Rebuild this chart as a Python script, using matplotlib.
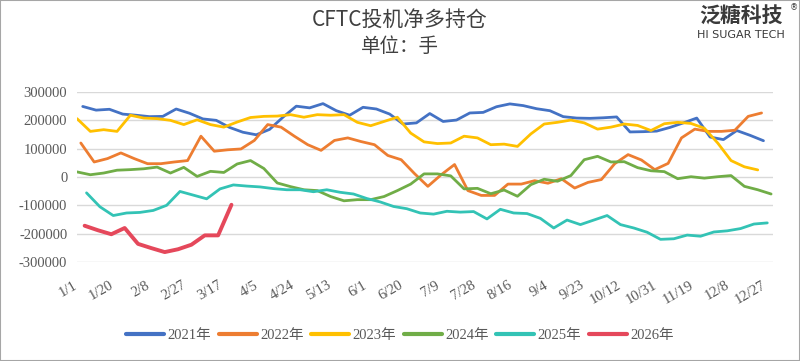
import numpy as np
import matplotlib
matplotlib.use("Agg")
import matplotlib.pyplot as plt
from matplotlib.patches import Rectangle
from matplotlib.transforms import ScaledTranslation

plt.rcParams['font.family'] = ['Liberation Serif', 'Noto Sans CJK SC', 'DejaVu Sans']

# CFTC 投机净多持仓 (千手), 每周一个数据点
years = ["2021年", "2022年", "2023年", "2024年", "2025年", "2026年"]
first_day = [3, 2, 0, 0, 5, 4]   # 每年第一个报告日在年内的天数

y2021 = [249, 236, 239, 222, 218, 213, 214, 240, 225, 205,
         200, 175, 158, 149, 168, 211, 250, 244, 259, 234,
         218, 246, 240, 222, 187, 191, 224, 196, 201, 226,
         228, 248, 258, 252, 241, 234, 213, 208, 207, 209,
         212, 159, 160, 162, 175, 191, 208, 141, 132, 164,
         147, 128]
y2022 = [120, 53, 65, 85, 65, 47, 47, 53, 58, 144,
         91, 96, 99, 129, 185, 176, 144, 114, 94, 129,
         138, 125, 114, 76, 61, 12, -33, 8, 44, -48,
         -65, -65, -25, -25, -13, -22, -6, -39, -19, -9,
         47, 79, 60, 26, 48, 138, 169, 161, 161, 165,
         214, 226]
y2023 = [206, 161, 167, 161, 218, 208, 206, 200, 185, 202,
         185, 176, 194, 210, 214, 215, 220, 211, 220, 218,
         220, 193, 181, 196, 211, 155, 124, 118, 120, 144,
         138, 114, 116, 108, 152, 187, 193, 201, 191, 169,
         176, 187, 182, 164, 188, 193, 189, 172, 120, 58,
         36, 25]
y2024 = [18, 8, 14, 24, 26, 29, 35, 14, 34, 2,
         20, 16, 46, 58, 30, -21, -34, -45, -48, -69,
         -84, -80, -80, -69, -48, -25, 11, 11, 4, -42,
         -40, -59, -46, -68, -27, -8, -15, 5, 61, 73,
         53, 54, 33, 22, 19, -6, 1, -4, 1, 5,
         -33, -45, -60]
y2025 = [-56, -105, -136, -127, -125, -118, -100, -51, -64, -77,
         -42, -28, -32, -35, -41, -45, -45, -52, -45, -54,
         -60, -76, -88, -104, -112, -127, -131, -121, -124, -122,
         -148, -114, -127, -129, -146, -180, -152, -168, -152, -136,
         -168, -180, -195, -220, -218, -205, -209, -194, -190, -182,
         -166, -162]
y2026 = [-172, -188, -202, -180, -236, -251, -265, -255, -239, -206,
         -206, -98]

series = [y2021, y2022, y2023, y2024, y2025, y2026]
colors = ["#4472C4", "#ED7D31", "#FFC000", "#70AD47", "#33C3B5", "#E5485B"]
widths = [2.0, 2.0, 2.0, 2.0, 2.0, 2.8]

tick_days = np.arange(0, 362, 19)
tick_labels = ["1/1", "1/20", "2/8", "2/27", "3/17", "4/5", "4/24", "5/13", "6/1", "6/20",
               "7/9", "7/28", "8/16", "9/4", "9/23", "10/12", "10/31", "11/19", "12/8", "12/27"]

fig = plt.figure(figsize=(8, 3.61), dpi=100)
ax = fig.add_axes([77 / 800, 1 - 262 / 361, (773 - 77) / 800, (262 - 92) / 361])

lines = []
for vals, start, c, lw, lab in zip(series, first_day, colors, widths, years):
    x = start + 7 * np.arange(len(vals))
    ln, = ax.plot(x, np.array(vals) * 1000, color=c, lw=lw, label=lab,
                  solid_capstyle='round', solid_joinstyle='round')
    lines.append(ln)

ax.set_xlim(0, 365)
ax.set_ylim(-300000, 300000)
ax.set_yticks(np.arange(-300000, 300001, 100000))
ax.yaxis.set_major_formatter(matplotlib.ticker.FuncFormatter(lambda v, p: f"{int(v)}"))
ax.grid(axis='y', color='#D9D9D9', lw=1)
ax.set_axisbelow(True)
for s in ax.spines.values():
    s.set_visible(False)
ax.tick_params(axis='y', length=0, pad=7, labelsize=10.5, labelcolor='#595959')
ax.set_xticks(tick_days)
ax.set_xticklabels(tick_labels, rotation=30, ha='right', va='top', rotation_mode='anchor',
                   fontsize=10.5, color='#595959')
ax.tick_params(axis='x', length=0, pad=12)
shift = ScaledTranslation(-4 / 100, 0, fig.dpi_scale_trans)
for lab in ax.get_xticklabels():
    lab.set_transform(lab.get_transform() + shift)

# 标题
fig.text(0.5, 1 - 21 / 361, "CFTC投机净多持仓", ha='center', va='center', fontsize=15,
         color='#404040', family=['Noto Sans CJK SC'])
fig.text(0.5, 1 - 47 / 361, "单位：手", ha='center', va='center', fontsize=14,
         color='#404040', family=['Noto Sans CJK SC'])

# logo
fig.text(741 / 800, 1 - 16 / 361, "泛糖科技", ha='center', va='center', fontsize=15,
         fontweight='bold', color='#3a3a3a', family=['Noto Sans CJK SC'])
fig.text(741 / 800, 1 - 35 / 361, "HI SUGAR TECH", ha='center', va='center', fontsize=8,
         color='#3a3a3a', family=['DejaVu Sans'])
fig.text(794 / 800, 1 - 8 / 361, "®", ha='center', va='center', fontsize=6,
         color='#3a3a3a', family=['DejaVu Sans'])

leg = fig.legend(handles=lines, loc='center', bbox_to_anchor=(0.5, 1 - 335 / 361), ncol=6,
                 frameon=False, fontsize=10.5, handlelength=2.6, handletextpad=0.25,
                 columnspacing=0.5)
for t in leg.get_texts():
    t.set_color('#595959')
for h in leg.legend_handles:
    h.set_linewidth(3)

fig.patches.append(Rectangle((0, 0), 1, 1, transform=fig.transFigure, fill=False,
                             edgecolor='#A6A6A6', lw=1.5))

fig.savefig("out.png", dpi=100)
